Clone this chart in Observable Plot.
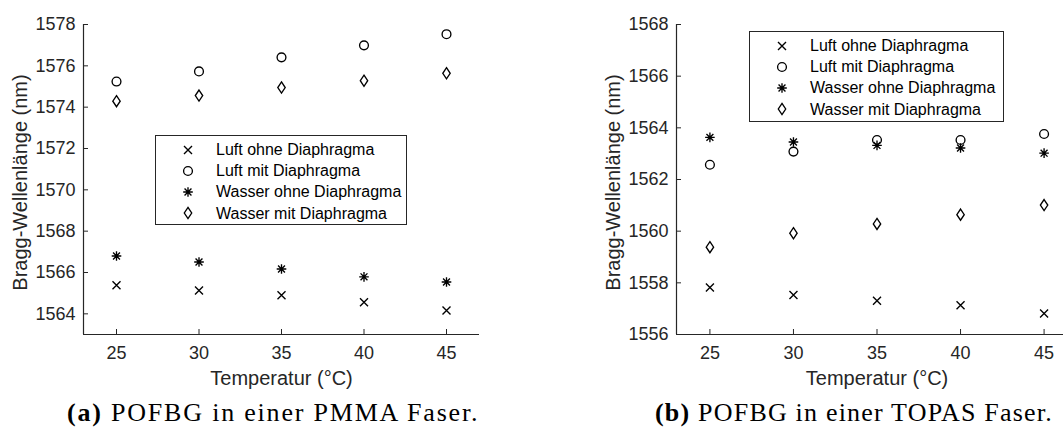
<!DOCTYPE html>
<html><head><meta charset="utf-8">
<script src="https://cdn.jsdelivr.net/npm/d3@7"></script>
<script src="https://cdn.jsdelivr.net/npm/@observablehq/plot@0.6"></script>
<style>
html,body{margin:0;padding:0;background:#fff;}
#wrap{position:relative;width:1063px;height:428px;overflow:hidden;font-family:"Liberation Sans",Arial,sans-serif;}
.panel{position:absolute;top:0;}
.legend{position:absolute;border:1px solid #262626;background:#fff;box-sizing:border-box;}
.legend .row{position:absolute;left:0;height:21px;line-height:21px;font-size:16px;color:#000;white-space:nowrap;}
.legend svg{position:absolute;overflow:visible;}
.caption{position:absolute;font-family:"Liberation Serif","Times New Roman",serif;font-size:26px;letter-spacing:1.8px;line-height:1;white-space:nowrap;color:#000;}
</style></head><body><div id="wrap"></div>
<script>
// ---------- data ----------
const temperatures = [25, 30, 35, 40, 45];
const seriesNames = ["Luft ohne Diaphragma", "Luft mit Diaphragma", "Wasser ohne Diaphragma", "Wasser mit Diaphragma"];
// (a) PMMA
const pmmaLuftOhne   = [1565.38, 1565.13, 1564.90, 1564.56, 1564.16];
const pmmaLuftMit    = [1575.24, 1575.73, 1576.41, 1576.99, 1577.53];
const pmmaWasserOhne = [1566.80, 1566.51, 1566.17, 1565.79, 1565.54];
const pmmaWasserMit  = [1574.29, 1574.56, 1574.95, 1575.28, 1575.64];
// (b) TOPAS
const topasLuftOhne   = [1557.82, 1557.53, 1557.31, 1557.13, 1556.81];
const topasLuftMit    = [1562.57, 1563.08, 1563.53, 1563.53, 1563.76];
const topasWasserOhne = [1563.63, 1563.45, 1563.32, 1563.22, 1563.02];
const topasWasserMit  = [1559.38, 1559.92, 1560.28, 1560.64, 1561.01];
const xDomain = [23, 47];
const pmmaYDomain = [1563, 1578];
const pmmaYTicks = [1564, 1566, 1568, 1570, 1572, 1574, 1576, 1578];
const topasYDomain = [1556, 1568];
const topasYTicks = [1556, 1558, 1560, 1562, 1564, 1566, 1568];
const xLabel = "Temperatur (°C)";
const yLabel = "Bragg-Wellenlänge (nm)";
const captionA = ["(a)", "POFBG in einer PMMA Faser."];
const captionB = ["(b)", "POFBG in einer TOPAS Faser."];

// ---------- symbols (MATLAB-like) ----------
const rr = s => Math.sqrt(s / Math.PI);
const symTimes = {draw(c, s) { const r = rr(s); c.moveTo(-r, -r); c.lineTo(r, r); c.moveTo(-r, r); c.lineTo(r, -r); }};
const symCircle = {draw(c, s) { const r = rr(s); c.moveTo(r, 0); c.arc(0, 0, r, 0, 2 * Math.PI); }};
const symStar = {draw(c, s) { const r = rr(s), d = r * 0.72;
  c.moveTo(-r, 0); c.lineTo(r, 0); c.moveTo(0, -r); c.lineTo(0, r);
  c.moveTo(-d, -d); c.lineTo(d, d); c.moveTo(-d, d); c.lineTo(d, -d); }};
const symDiamond = {draw(c, s) { const r = rr(s);
  c.moveTo(0, -1.5 * r); c.lineTo(r, 0); c.lineTo(0, 1.5 * r); c.lineTo(-r, 0); c.closePath(); }};
const symbols = [symTimes, symCircle, symStar, symDiamond];
const symR = [4, 4.4, 4.8, 3.7];

function panel(opts) {
  const {series, yDomain, yTicks, width, marginLeft, marginRight} = opts;
  const dots = series.map((vals, k) => Plot.dot(temperatures.map((t, i) => ({t, v: vals[i]})), {
    x: "t", y: "v", symbol: symbols[k], r: symR[k], fill: "none", stroke: "#000", strokeWidth: 1.35
  }));
  return Plot.plot({
    width, height: 395, marginLeft, marginRight, marginTop: 24, marginBottom: 61,
    style: {fontFamily: "'Liberation Sans', Arial, sans-serif", color: "#262626", background: "transparent", overflow: "visible"},
    x: {domain: xDomain},
    y: {domain: yDomain},
    marks: [
      Plot.ruleX([xDomain[0]], {stroke: "#262626", strokeWidth: 1.2}),
      Plot.ruleY([yDomain[0]], {stroke: "#262626", strokeWidth: 1.2}),
      Plot.axisX({ticks: temperatures, tickSize: -5, tickPadding: 17, fontSize: 18, tickFormat: d => String(d), label: null, stroke: "#262626", fill: "#262626"}),
      Plot.axisY({ticks: yTicks, tickSize: -5, tickPadding: 13, fontSize: 18, tickFormat: d => String(d), label: null, stroke: "#262626", fill: "#262626"}),
      ...dots,
      Plot.text([yLabel], {frameAnchor: "left", textAnchor: "middle", dx: -63, dy: 3, rotate: -90, fontSize: 20, fill: "#262626"}),
      Plot.text([xLabel], {frameAnchor: "bottom", dy: 50, fontSize: 20, fill: "#262626"})
    ]
  });
}

const wrap = document.getElementById("wrap");
function place(el, left, top) { el.classList.add("panel"); el.style.left = left + "px"; el.style.top = top + "px"; wrap.appendChild(el); }

place(panel({series: [pmmaLuftOhne, pmmaLuftMit, pmmaWasserOhne, pmmaWasserMit], yDomain: pmmaYDomain, yTicks: pmmaYTicks, width: 530, marginLeft: 83, marginRight: 51}), 0, 0);
place(panel({series: [topasLuftOhne, topasLuftMit, topasWasserOhne, topasWasserMit], yDomain: topasYDomain, yTicks: topasYTicks, width: 560, marginLeft: 136, marginRight: 23}), 540, 0);

function legend(left, top, w, h, markerX, textX, firstRowY) {
  const box = document.createElement("div");
  box.className = "legend";
  Object.assign(box.style, {left: left + "px", top: top + "px", width: w + "px", height: h + "px"});
  seriesNames.forEach((name, k) => {
    const cy = firstRowY + k * 21.2;
    const ns = "http://www.w3.org/2000/svg";
    const svg = document.createElementNS(ns, "svg");
    svg.setAttribute("width", 1); svg.setAttribute("height", 1);
    svg.style.left = markerX + "px"; svg.style.top = cy + "px";
    const p = document.createElementNS(ns, "path");
    p.setAttribute("d", d3.symbol(symbols[k], Math.PI * symR[k] * symR[k])());
    p.setAttribute("fill", "none"); p.setAttribute("stroke", "#000"); p.setAttribute("stroke-width", 1.35);
    svg.appendChild(p); box.appendChild(svg);
    const row = document.createElement("div");
    row.className = "row"; row.textContent = name;
    row.style.left = textX + "px"; row.style.top = (cy - 10.5) + "px";
    box.appendChild(row);
  });
  wrap.appendChild(box);
}
legend(155, 135, 252, 90, 32, 60, 13.5);
legend(749, 31, 255, 91, 31.5, 60, 13.5);

function caption(parts, left, top, spacing) {
  const d = document.createElement("div");
  d.className = "caption";
  d.style.left = left + "px"; d.style.top = top + "px";
  if (spacing != null) d.style.letterSpacing = spacing + "px";
  const b = document.createElement("b"); b.textContent = parts[0];
  d.appendChild(b); d.appendChild(document.createTextNode(" " + parts[1]));
  wrap.appendChild(d);
}
caption(captionA, 67, 400);
caption(captionB, 655, 400, 1.2);
</script></body></html>
